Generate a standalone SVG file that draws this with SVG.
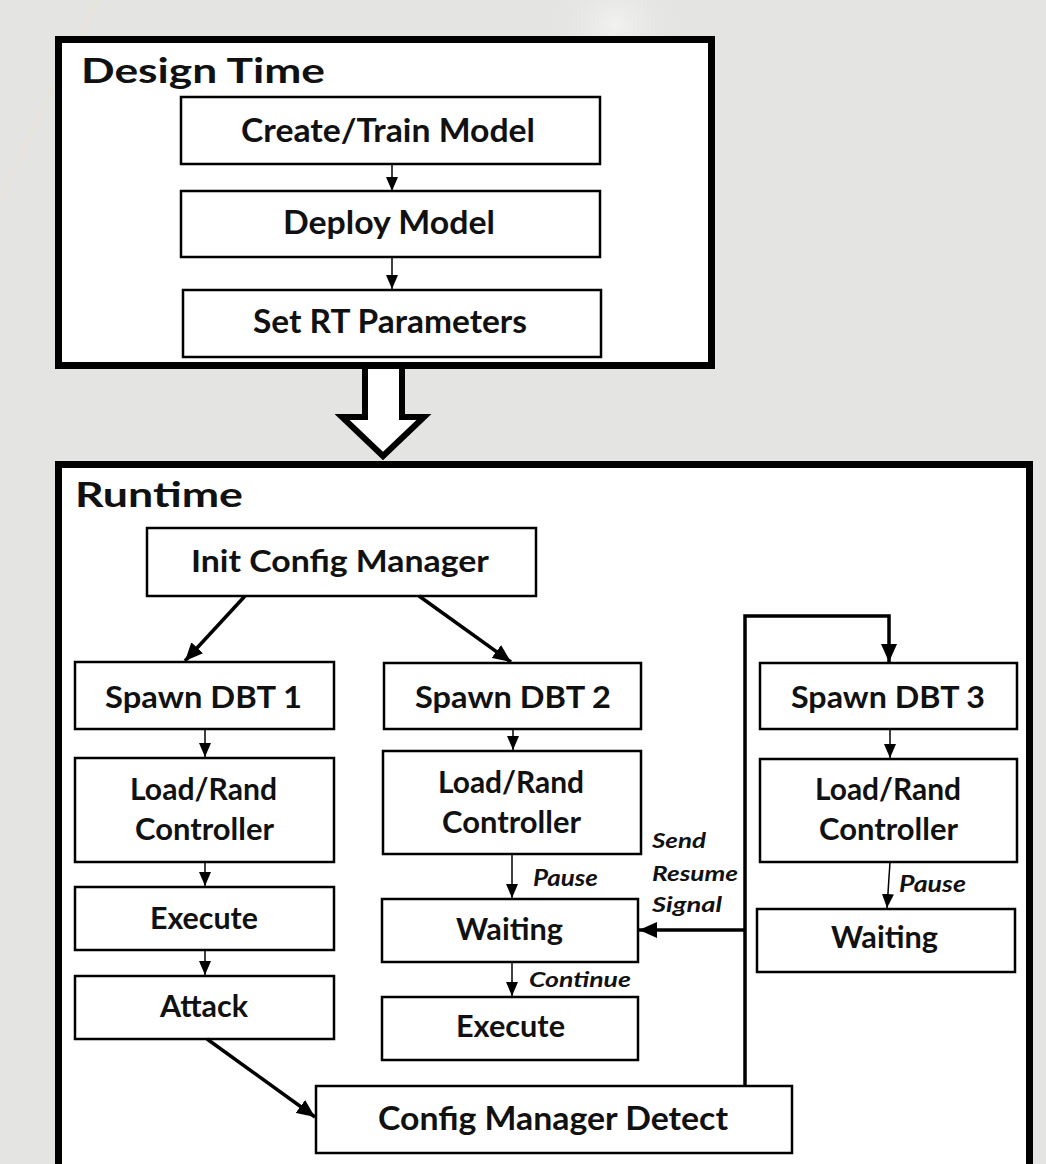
<svg xmlns="http://www.w3.org/2000/svg" width="1046" height="1164" viewBox="0 0 1046 1164">
<style>
.bg{fill:#e4e4e2}
.frame{fill:#fff;stroke:#000;stroke-width:7}
.box{fill:#fff;stroke:#000;stroke-width:2.5}
.t{font-family:Lato,"Open Sans","Liberation Sans",sans-serif;font-weight:bold;fill:#111}
.it{font-family:Lato,"Open Sans","Liberation Sans",sans-serif;font-weight:bold;font-style:italic;fill:#111}
.thin{fill:none;stroke:#000;stroke-width:1.5}
.thick{fill:none;stroke:#000;stroke-width:3.5}
</style>
<defs>
<marker id="ah" markerUnits="userSpaceOnUse" viewBox="0 0 14 12" markerWidth="14" markerHeight="12" refX="14" refY="6" orient="auto"><path d="M0,0 L14,6 L0,12 z" fill="#000"/></marker>
<marker id="ahb" markerUnits="userSpaceOnUse" viewBox="0 0 18 16" markerWidth="18" markerHeight="16" refX="18" refY="8" orient="auto"><path d="M0,0 L18,8 L0,16 z" fill="#000"/></marker>
<radialGradient id="glow" cx="0.5" cy="0.5" r="0.5"><stop offset="0" stop-color="#f2f2f0"/><stop offset="1" stop-color="#e4e4e2" stop-opacity="0"/></radialGradient>
</defs>
<rect class="bg" x="0" y="0" width="1046" height="1164"/>
<ellipse cx="615" cy="25" rx="70" ry="60" fill="url(#glow)"/>
<path d="M98,0 Q40,110 0,200" fill="none" stroke="#ece3c6" stroke-width="1.5" opacity="0.7"/>

<g id="design-time">
<rect class="frame" x="58.5" y="39.5" width="653" height="326"/>
<text class="t" x="81" y="83" font-size="35" textLength="244" lengthAdjust="spacingAndGlyphs">Design Time</text>
</g>
<g id="create-train-model">
<rect class="box" x="181" y="97" width="419" height="67"/>
<text class="t" x="241" y="142" font-size="32" textLength="294" lengthAdjust="spacingAndGlyphs">Create/Train Model</text>
</g>
<g id="deploy-model">
<rect class="box" x="181" y="191" width="419" height="66"/>
<text class="t" x="283" y="234" font-size="32" textLength="212" lengthAdjust="spacingAndGlyphs">Deploy Model</text>
</g>
<g id="set-rt-parameters">
<rect class="box" x="183" y="290" width="418" height="67"/>
<text class="t" x="253" y="333" font-size="32" textLength="274" lengthAdjust="spacingAndGlyphs">Set RT Parameters</text>
</g>

<g id="runtime">
<rect class="frame" x="58.5" y="464.5" width="971" height="760"/>
<text class="t" x="75" y="507" font-size="35" textLength="168" lengthAdjust="spacingAndGlyphs">Runtime</text>
</g>
<g id="big-arrow">
<path d="M365,369 V417 H342 L383,456 L424,417 H402 V369" fill="#fff" stroke="#000" stroke-width="6" stroke-linejoin="miter"/>
</g>

<g id="init-config-manager">
<rect class="box" x="147" y="528" width="389" height="68"/>
<text class="t" x="191" y="572" font-size="31" textLength="298" lengthAdjust="spacingAndGlyphs">Init Config Manager</text>
</g>
<g id="spawn-dbt-1">
<rect class="box" x="75" y="662" width="259" height="67"/>
<text class="t" x="105" y="708" font-size="31" textLength="197" lengthAdjust="spacingAndGlyphs">Spawn DBT 1</text>
</g>
<g id="spawn-dbt-2">
<rect class="box" x="384" y="663" width="257" height="66"/>
<text class="t" x="415" y="708" font-size="31" textLength="196" lengthAdjust="spacingAndGlyphs">Spawn DBT 2</text>
</g>
<g id="spawn-dbt-3">
<rect class="box" x="760" y="663" width="257" height="66"/>
<text class="t" x="791" y="708" font-size="31" textLength="194" lengthAdjust="spacingAndGlyphs">Spawn DBT 3</text>
</g>
<g id="load-rand-1">
<rect class="box" x="75" y="758" width="259" height="104"/>
<text class="t" x="130" y="800" font-size="30" textLength="147" lengthAdjust="spacingAndGlyphs">Load/Rand</text>
<text class="t" x="135" y="840" font-size="30" textLength="139" lengthAdjust="spacingAndGlyphs">Controller</text>
</g>
<g id="load-rand-2">
<rect class="box" x="383" y="751" width="258" height="103"/>
<text class="t" x="438" y="793" font-size="30" textLength="146" lengthAdjust="spacingAndGlyphs">Load/Rand</text>
<text class="t" x="442" y="833" font-size="30" textLength="139" lengthAdjust="spacingAndGlyphs">Controller</text>
</g>
<g id="load-rand-3">
<rect class="box" x="760" y="759" width="257" height="103"/>
<text class="t" x="815" y="800" font-size="30" textLength="146" lengthAdjust="spacingAndGlyphs">Load/Rand</text>
<text class="t" x="819" y="840" font-size="30" textLength="139" lengthAdjust="spacingAndGlyphs">Controller</text>
</g>
<g id="execute-1">
<rect class="box" x="75" y="887" width="259" height="63"/>
<text class="t" x="150" y="929" font-size="30" textLength="108" lengthAdjust="spacingAndGlyphs">Execute</text>
</g>
<g id="attack">
<rect class="box" x="75" y="976" width="259" height="63"/>
<text class="t" x="160" y="1017" font-size="30" textLength="88" lengthAdjust="spacingAndGlyphs">Attack</text>
</g>
<g id="waiting-2">
<rect class="box" x="382" y="899" width="256" height="63"/>
<text class="t" x="456" y="940" font-size="30" textLength="107" lengthAdjust="spacingAndGlyphs">Waiting</text>
</g>
<g id="execute-2">
<rect class="box" x="382" y="997" width="256" height="63"/>
<text class="t" x="456" y="1037" font-size="30" textLength="109" lengthAdjust="spacingAndGlyphs">Execute</text>
</g>
<g id="waiting-3">
<rect class="box" x="757" y="909" width="258" height="63"/>
<text class="t" x="831" y="948" font-size="30" textLength="107" lengthAdjust="spacingAndGlyphs">Waiting</text>
</g>
<g id="config-manager-detect">
<rect class="box" x="316" y="1086" width="476" height="67"/>
<text class="t" x="378" y="1130" font-size="32" textLength="350" lengthAdjust="spacingAndGlyphs">Config Manager Detect</text>
</g>

<g id="connectors">
<line class="thin" x1="392" y1="164" x2="392" y2="191" marker-end="url(#ah)"/>
<line class="thin" x1="392" y1="257" x2="392" y2="289" marker-end="url(#ah)"/>
<line class="thick" x1="245" y1="596" x2="185" y2="661" marker-end="url(#ahb)"/>
<line class="thick" x1="419" y1="596" x2="511" y2="662" marker-end="url(#ahb)"/>
<line class="thin" x1="205" y1="729" x2="205" y2="757" marker-end="url(#ah)"/>
<line class="thin" x1="205" y1="862" x2="205" y2="886" marker-end="url(#ah)"/>
<line class="thin" x1="205" y1="950" x2="205" y2="975" marker-end="url(#ah)"/>
<line class="thick" x1="207" y1="1039" x2="315" y2="1117" marker-end="url(#ahb)"/>
<line class="thin" x1="513" y1="729" x2="513" y2="750" marker-end="url(#ah)"/>
<line class="thin" x1="512" y1="854" x2="512" y2="898" marker-end="url(#ah)"/>
<line class="thin" x1="512" y1="962" x2="512" y2="996" marker-end="url(#ah)"/>
<line class="thin" x1="890" y1="729" x2="890" y2="758" marker-end="url(#ah)"/>
<line class="thin" x1="890" y1="862" x2="887" y2="908" marker-end="url(#ah)"/>
<path class="thick" d="M745,1086 V616 H889 V662" marker-end="url(#ahb)"/>
<line class="thick" x1="745" y1="930" x2="639" y2="930" marker-end="url(#ahb)"/>
<text class="it" x="533" y="886" font-size="22" textLength="65" lengthAdjust="spacingAndGlyphs">Pause</text>
<text class="it" x="529" y="987" font-size="21" textLength="102" lengthAdjust="spacingAndGlyphs">Continue</text>
<text class="it" x="899" y="892" font-size="22" textLength="67" lengthAdjust="spacingAndGlyphs">Pause</text>
<text class="it" x="652" y="848" font-size="20" textLength="54" lengthAdjust="spacingAndGlyphs">Send</text>
<text class="it" x="652" y="881" font-size="20" textLength="86" lengthAdjust="spacingAndGlyphs">Resume</text>
<text class="it" x="652" y="912" font-size="20" textLength="70" lengthAdjust="spacingAndGlyphs">Signal</text>
</g>
</svg>
